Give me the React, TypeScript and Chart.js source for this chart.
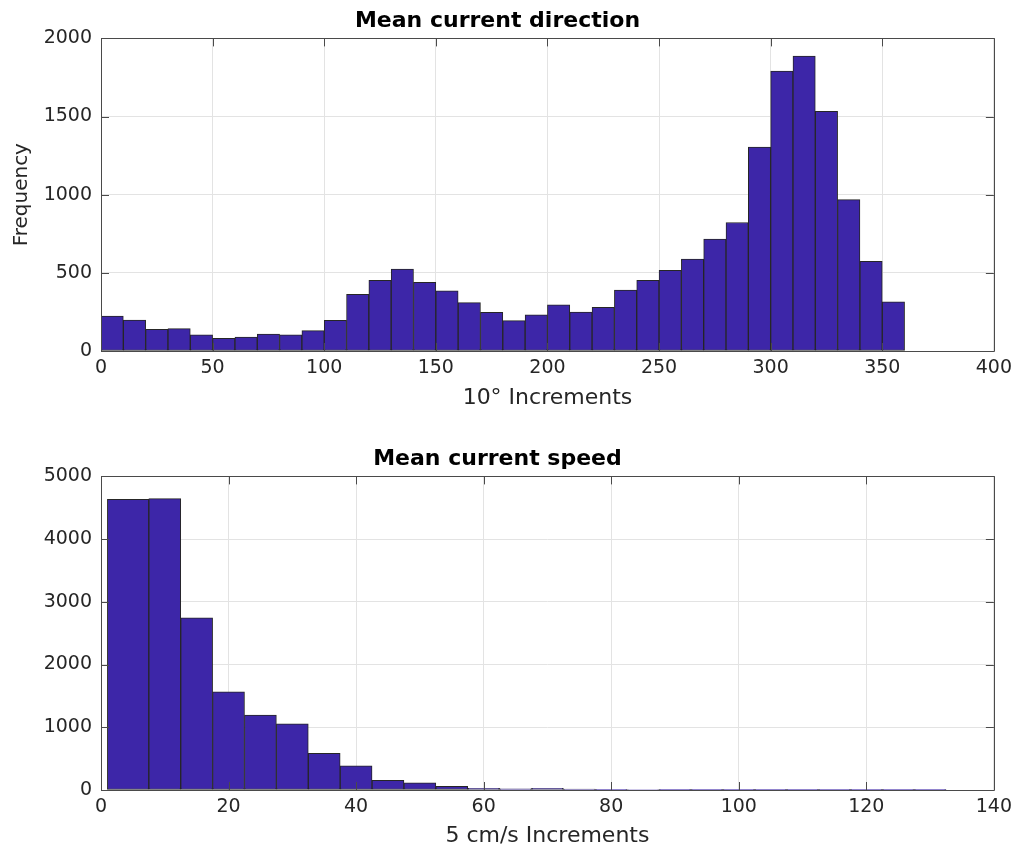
import React, { useEffect, useRef } from "react";
import { Chart, registerables } from "chart.js";

Chart.register(...registerables);

// ---- Data ----
const dirEdges = [0, 10, 20, 30, 40, 50, 60, 70, 80, 90, 100, 110, 120, 130, 140, 150, 160, 170, 180, 190, 200, 210, 220, 230, 240, 250, 260, 270, 280, 290, 300, 310, 320, 330, 340, 350, 360];
const dirCounts = [224, 198, 138, 143, 104, 81, 89, 109, 104, 130, 196, 362, 452, 524, 439, 385, 309, 247, 194, 232, 296, 249, 279, 390, 452, 516, 588, 716, 822, 1305, 1791, 1887, 1534, 969, 573, 315];

const speedEdges = [1, 7.5, 12.5, 17.5, 22.5, 27.5, 32.5, 37.5, 42.5, 47.5, 52.5, 57.5, 62.5, 67.5, 72.5, 77.5, 82.5, 87.5, 92.5, 97.5, 102.5, 107.5, 112.5, 117.5, 122.5, 127.5, 132.5];
const speedCounts = [4634, 4645, 2744, 1565, 1194, 1056, 584, 387, 154, 115, 60, 27, 18, 28, 15, 12, 8, 10, 5, 4, 6, 5, 6, 3, 2, 2];

const dirXTicks = [0, 50, 100, 150, 200, 250, 300, 350, 400];
const dirYTicks = [0, 500, 1000, 1500, 2000];
const speedXTicks = [0, 20, 40, 60, 80, 100, 120, 140];
const speedYTicks = [0, 1000, 2000, 3000, 4000, 5000];

const FONT = "'DejaVu Sans', sans-serif";
const TEXT = "#262626";
const BAR = "#3D26A8";
const BAR_EDGE = "#262626";
const GRID = "#e3e3e3";

// Plugin: place each bar exactly between its bin edges using the x scale
const binPlugin = {
  id: "binPlugin",
  beforeDatasetsDraw(chart: any) {
    const edges: number[] = chart.options.plugins.binPlugin.edges;
    const xs = chart.scales.x;
    const meta = chart.getDatasetMeta(0);
    meta.data.forEach((el: any, i: number) => {
      const l = xs.getPixelForValue(edges[i]);
      const r = xs.getPixelForValue(edges[i + 1]);
      el.x = (l + r) / 2;
      el.width = r - l;
    });
  },
};

// Plugin: MATLAB-like box with inward ticks
const boxPlugin = {
  id: "boxPlugin",
  afterDatasetsDraw(chart: any) {
    const { ctx, chartArea: a, scales } = chart;
    const len = 8;
    ctx.save();
    ctx.strokeStyle = "#4a4a4a";
    ctx.lineWidth = 1;
    ctx.beginPath();
    scales.x.ticks.forEach((t: any) => {
      const px = Math.round(scales.x.getPixelForValue(t.value)) + 0.5;
      ctx.moveTo(px, a.bottom);
      ctx.lineTo(px, a.bottom - len);
      ctx.moveTo(px, a.top);
      ctx.lineTo(px, a.top + len);
    });
    scales.y.ticks.forEach((t: any) => {
      const py = Math.round(scales.y.getPixelForValue(t.value)) + 0.5;
      ctx.moveTo(a.left, py);
      ctx.lineTo(a.left + len, py);
      ctx.moveTo(a.right, py);
      ctx.lineTo(a.right - len, py);
    });
    ctx.stroke();
    ctx.beginPath();
    ctx.rect(Math.round(a.left) + 0.5, Math.round(a.top) + 0.5, Math.round(a.right - a.left), Math.round(a.bottom - a.top));
    ctx.stroke();
    ctx.restore();
  },
};

interface HistProps {
  edges: number[];
  counts: number[];
  xTicks: number[];
  yTicks: number[];
  title: string;
  xLabel: string;
  yLabel?: string;
  height: number;
  titlePad: { top: number; bottom: number };
  xAxisHeight: number;
  xTitlePadBottom: number;
}

function Histogram(p: HistProps) {
  const ref = useRef<HTMLCanvasElement>(null);
  useEffect(() => {
    if (!ref.current) return;
    const data = p.counts.map((c, i) => ({ x: (p.edges[i] + p.edges[i + 1]) / 2, y: c }));
    const chart = new Chart(ref.current, {
      type: "bar",
      data: {
        datasets: [
          {
            data,
            backgroundColor: BAR,
            borderColor: BAR_EDGE,
            borderWidth: 1,
            borderSkipped: false,
            barPercentage: 1,
            categoryPercentage: 1,
          } as any,
        ],
      },
      plugins: [binPlugin, boxPlugin],
      options: {
        animation: false,
        responsive: false,
        devicePixelRatio: 1,
        layout: { padding: { left: 0, right: 23, top: 0, bottom: 0 } },
        plugins: {
          legend: { display: false },
          tooltip: { enabled: false },
          title: {
            display: true,
            text: p.title,
            color: "#000",
            font: { family: FONT, size: 22, weight: "bold" },
            padding: p.titlePad,
          },
          binPlugin: { edges: p.edges },
        } as any,
        scales: {
          x: {
            type: "linear",
            offset: false,
            min: p.xTicks[0],
            max: p.xTicks[p.xTicks.length - 1],
            afterBuildTicks: (s: any) => {
              s.ticks = p.xTicks.map((v) => ({ value: v }));
            },
            afterFit: (s: any) => {
              s.height = p.xAxisHeight;
            },
            grid: { color: GRID, drawTicks: false, offset: false },
            border: { display: false },
            ticks: {
              color: TEXT,
              font: { family: FONT, size: 19 },
              padding: 6,
              maxRotation: 0,
              autoSkip: false,
              callback: (v: any) => String(v),
            },
            title: {
              display: true,
              text: p.xLabel,
              color: TEXT,
              font: { family: FONT, size: 22 },
              padding: { top: 0, bottom: p.xTitlePadBottom },
            },
          },
          y: {
            type: "linear",
            min: p.yTicks[0],
            max: p.yTicks[p.yTicks.length - 1],
            afterBuildTicks: (s: any) => {
              s.ticks = p.yTicks.map((v) => ({ value: v }));
            },
            afterFit: (s: any) => {
              s.width = 101;
            },
            grid: { color: GRID, drawTicks: false },
            border: { display: false },
            ticks: {
              color: TEXT,
              font: { family: FONT, size: 19 },
              padding: 9,
              callback: (v: any) => String(v),
            },
            title: {
              display: !!p.yLabel,
              text: p.yLabel || "",
              color: TEXT,
              font: { family: FONT, size: 20 },
              padding: { top: 10, bottom: 0 },
            },
          },
        },
      } as any,
    });
    return () => chart.destroy();
  }, []);
  return <canvas ref={ref} width={1018} height={p.height} style={{ display: "block", width: 1018, height: p.height }} />;
}

export default function App() {
  return (
    <div style={{ position: "absolute", left: 0, top: 0, width: 1018, height: 850, background: "#fff" }}>
      <Histogram
        edges={dirEdges}
        counts={dirCounts}
        xTicks={dirXTicks}
        yTicks={dirYTicks}
        title="Mean current direction"
        xLabel="10° Increments"
        yLabel="Frequency"
        height={430}
        titlePad={{ top: 8, bottom: 4 }}
        xAxisHeight={79}
        xTitlePadBottom={19}
      />
      <Histogram
        edges={speedEdges}
        counts={speedCounts}
        xTicks={speedXTicks}
        yTicks={speedYTicks}
        title="Mean current speed"
        xLabel="5 cm/s Increments"
        height={420}
        titlePad={{ top: 16, bottom: 4 }}
        xAxisHeight={60}
        xTitlePadBottom={1}
      />
    </div>
  );
}
